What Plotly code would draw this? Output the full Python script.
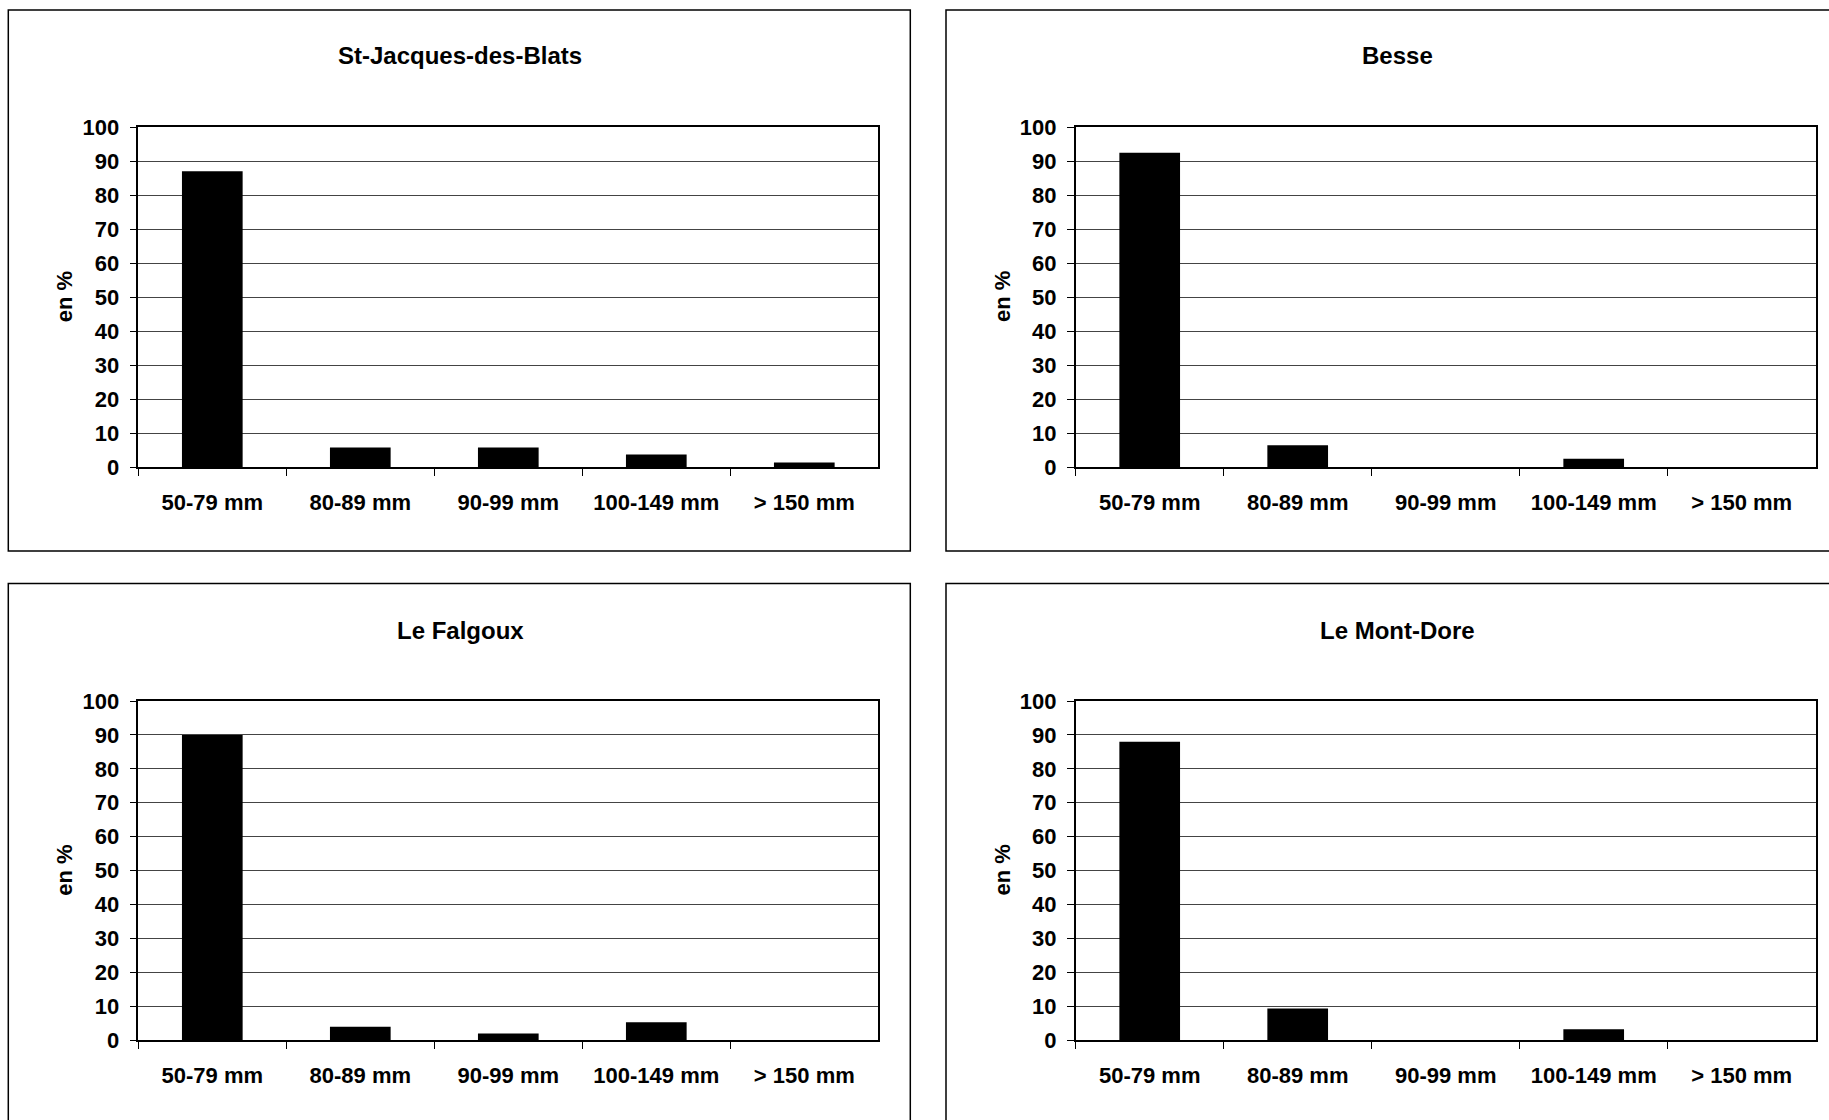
import plotly.graph_objects as go

W, H = 1829, 1120

categories = ["50-79 mm", "80-89 mm", "90-99 mm", "100-149 mm", "> 150 mm"]
titles = ["St-Jacques-des-Blats", "Besse", "Le Falgoux", "Le Mont-Dore"]
st_jacques = [87.0, 5.7, 5.7, 3.7, 1.3]
besse = [92.4, 6.4, 0.0, 2.4, 0.0]
falgoux = [90.0, 3.9, 1.9, 5.2, 0.0]
mont_dore = [88.0, 9.3, 0.0, 3.2, 0.0]
series = [st_jacques, besse, falgoux, mont_dore]
y_ticks = [0, 10, 20, 30, 40, 50, 60, 70, 80, 90, 100]

FONT = "Liberation Sans, Arial, sans-serif"
FS = 22
FS_TITLE = 24

panels = [
    dict(px=(138.3, 878.3), py=(127, 467), box=(8.3, 10, 910.3, 551), ty=55, tx=460),
    dict(px=(1075.7, 1815.7), py=(127, 467), box=(946, 10, 1835, 551), ty=55, tx=1397),
    dict(px=(138.3, 878.3), py=(701, 1040), box=(8.3, 583.5, 910.3, 1125), ty=630, tx=460),
    dict(px=(1075.7, 1815.7), py=(701, 1040), box=(946, 583.5, 1835, 1125), ty=630, tx=1397),
]

def fx(p):
    return p / W

def fy(p):
    return 1 - p / H

fig = go.Figure()
layout = dict(width=W, height=H, margin=dict(l=0, r=0, t=0, b=0, pad=0, autoexpand=False),
              paper_bgcolor="white", plot_bgcolor="white", showlegend=False,
              font=dict(family=FONT, size=FS, color="black"), bargap=0.59)
shapes = []
annotations = []

for i, (p, vals, title) in enumerate(zip(panels, series, titles)):
    n = "" if i == 0 else str(i + 1)
    fig.add_trace(go.Bar(x=categories, y=vals, marker=dict(color="black", line=dict(width=0)),
                         xaxis="x" + n, yaxis="y" + n, hoverinfo="x+y"))
    layout["xaxis" + n] = dict(
        domain=[fx(p["px"][0]), fx(p["px"][1])], anchor="y" + n, automargin=False,
        showline=True, linecolor="black", linewidth=2, mirror=True,
        ticks="outside", tickson="boundaries", ticklen=7, tickcolor="black", tickwidth=1,
        ticklabelstandoff=15,
        tickfont=dict(family=FONT, size=FS, color="black", weight="bold"),
        showgrid=False, fixedrange=True)
    layout["yaxis" + n] = dict(
        domain=[fy(p["py"][1]), fy(p["py"][0])], anchor="x" + n, automargin=False,
        range=[0, 100], tickvals=y_ticks,
        showline=True, linecolor="black", linewidth=1.5, mirror=True,
        ticks="outside", ticklen=7, tickcolor="black",
        ticklabelstandoff=6,
        tickfont=dict(family=FONT, size=FS, color="black", weight="bold"),
        showgrid=True, gridcolor="#444444", gridwidth=1, zeroline=False, fixedrange=True)
    bx0, by0, bx1, by1 = p["box"]
    shapes.append(dict(type="rect", xref="paper", yref="paper",
                       x0=fx(bx0), x1=fx(bx1), y0=fy(by1), y1=fy(by0),
                       line=dict(color="black", width=1.5), fillcolor="rgba(0,0,0,0)", layer="below"))
    annotations.append(dict(text="<b>" + title + "</b>", xref="paper", yref="paper",
                            x=fx(p["tx"]), y=fy(p["ty"]), xanchor="center", yanchor="middle",
                            showarrow=False, font=dict(family=FONT, size=FS_TITLE, color="black")))
    annotations.append(dict(text="<b>en %</b>", xref="paper", yref="paper",
                            x=fx(bx0 + 56), y=fy((p["py"][0] + p["py"][1]) / 2),
                            xanchor="center", yanchor="middle", textangle=-90,
                            showarrow=False, font=dict(family=FONT, size=FS, color="black")))

layout["shapes"] = shapes
layout["annotations"] = annotations
fig.update_layout(**layout)
fig.write_html("out.html", config={"displayModeBar": False},
               post_script="document.body.style.margin='0';document.body.style.overflow='hidden';")
